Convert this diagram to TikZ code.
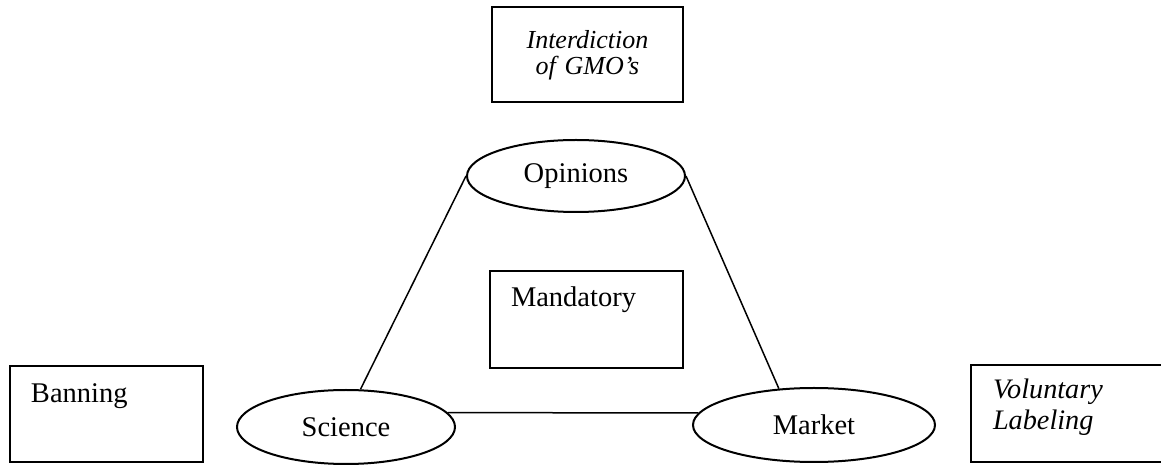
\documentclass[tikz,border=0pt]{standalone}
\usepackage{fontspec}
\setmainfont{Liberation Serif}
\usetikzlibrary{shapes,positioning}

\begin{document}
\begin{tikzpicture}[x=0.4pt,y=-0.4pt,
ovalnode/.style={ellipse, draw=black, line width=0.8pt, inner sep=0pt, font=\fontsize{11.4}{13}\selectfont},
labelbox/.style={rectangle, draw=black, line width=0.8pt, inner ysep=0pt, align=left, font=\fontsize{11.4}{12.4}\selectfont},
link/.style={line width=0.6pt},
]
\useasboundingbox (0,0) rectangle (1161,465);

\node[labelbox, inner xsep=0pt, align=center, text width=76.4pt, text height=16.8pt, text depth=21.2pt,
      font=\fontsize{10.4}{10.2}\selectfont\itshape]     (gmo)       at (587.5,54.5)   {Interdiction\\ of GMO’s};
\node[ovalnode, minimum width=87.2pt, minimum height=28.8pt]  (opinions)  at (576,176)  {Opinions};
\node[labelbox, inner xsep=8.4pt, text width=60.4pt, text height=14.4pt, text depth=24.4pt] (mandatory) at (586.5,319.5) {Mandatory};
\node[labelbox, inner xsep=8.4pt, text width=60.4pt, text height=14.8pt, text depth=23.6pt] (banning)   at (106.5,414)   {Banning};
\node[ovalnode, minimum width=87.2pt, minimum height=29.6pt]  (science)   at (346,427)  {Science};
\node[ovalnode, minimum width=96.8pt, minimum height=29.6pt]  (market)    at (814,425)  {Market};
\node[labelbox, inner xsep=8.8pt, text width=62.4pt, text height=13.6pt, text depth=25.2pt,
      font=\fontsize{11.3}{12.4}\selectfont\itshape]     (voluntary) at (1071,413.5)  {Voluntary\\ Labeling};

\draw[link] (opinions.west) -- (science.69);
\draw[link] (opinions.east) -- (market.134);
\draw[link] (science.8) -- (market.174);
\end{tikzpicture}
\end{document}
